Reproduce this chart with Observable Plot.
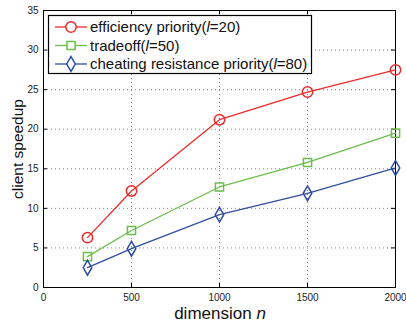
<!DOCTYPE html>
<html><head><meta charset="utf-8">
<script src="https://cdn.jsdelivr.net/npm/d3@7"></script>
<script src="https://cdn.jsdelivr.net/npm/@observablehq/plot@0.6"></script>
<style>
body{margin:0;background:#fff;}
#chart{position:relative;width:406px;height:325px;}
svg{font-family:"Liberation Sans",Arial,sans-serif;}
</style>
</head><body><div id="chart"></div>
<script>
const dims = [250, 500, 1000, 1500, 2000];
const efficiency = [6.3, 12.2, 21.2, 24.7, 27.5];
const tradeoff = [3.9, 7.2, 12.7, 15.8, 19.5];
const cheating = [2.5, 4.9, 9.2, 11.9, 15.1];
const seriesNames = ["efficiency priority(", "tradeoff(", "cheating resistance priority("];
const seriesL = ["20", "50", "80"];
const colors = ["#ee2a2a", "#6abf4b", "#2f4ea2"];
const xTicks = [0, 500, 1000, 1500, 2000];
const yTicks = [0, 5, 10, 15, 20, 25, 30, 35];

const series = [efficiency, tradeoff, cheating];
const symbols = ["circle", "square", "diamond"];
const radii = [5.2, 4.6, 4.5];
const rows = series.map((vals, i) => vals.map((v, j) => ({x: dims[j], y: v, s: i})));

const W = 406, H = 325, mL = 43, mR = 11, mT = 10, mB = 38;
const plotH = H - mT - mB, plotW = W - mL - mR;
const gridX = xTicks.slice(1, -1), gridY = yTicks.slice(1, -1);

const marks = [
  Plot.ruleX(gridX, {x: d => d, stroke: "#888", strokeDasharray: "1,3", strokeWidth: 1}),
  Plot.ruleY(gridY, {y: d => d, stroke: "#888", strokeDasharray: "1,3", strokeWidth: 1}),
  // inward ticks
  Plot.tickX(xTicks, {x: d => d, stroke: "#000", insetTop: plotH - 4}),
  Plot.tickX(xTicks, {x: d => d, stroke: "#000", insetBottom: plotH - 4}),
  Plot.tickY(yTicks, {y: d => d, stroke: "#000", insetRight: plotW - 4}),
  Plot.tickY(yTicks, {y: d => d, stroke: "#000", insetLeft: plotW - 4}),
  Plot.frame({stroke: "#000", strokeWidth: 1}),
  Plot.axisX(xTicks, {tickSize: 0, tickPadding: 6, fontSize: 10, fill: "#222", tickFormat: d3.format("d")}),
  Plot.axisY(yTicks, {tickSize: 0, tickPadding: 5, fontSize: 10, fill: "#222"}),
];
rows.forEach((r, i) => {
  marks.push(Plot.line(r, {x: "x", y: "y", stroke: colors[i], strokeWidth: 1.3}));
  marks.push(Plot.dot(r, {x: "x", y: "y", stroke: colors[i], symbol: symbols[i], r: radii[i], strokeWidth: 1.5, fill: "none"}));
});

const chart = Plot.plot({
  width: W, height: H,
  marginLeft: mL, marginRight: mR, marginTop: mT, marginBottom: mB,
  x: {domain: [0, 2000], label: null},
  y: {domain: [0, 35], label: null},
  marks
});
document.getElementById("chart").appendChild(chart);

const svg = d3.select(chart);
// axis labels
const xl = svg.append("text").attr("x", 220).attr("y", 319)
  .attr("text-anchor", "middle").attr("font-size", 17).attr("fill", "#111");
xl.append("tspan").text("dimension ");
xl.append("tspan").attr("font-style", "italic").text("n");
svg.append("text").attr("transform", `translate(23,149) rotate(-90)`)
  .attr("text-anchor", "middle").attr("font-size", 15.5).attr("fill", "#111").text("client speedup");

// legend
const lg = svg.append("g");
lg.append("rect").attr("x", 48.5).attr("y", 15.5).attr("width", 263).attr("height", 58)
  .attr("fill", "#fff").attr("stroke", "#000").attr("stroke-width", 1.2);
const dSym = {circle: d3.symbolCircle, square: d3.symbolSquare, diamond: d3.symbolDiamond};
seriesNames.forEach((name, i) => {
  const cy = 27 + i * 18.5;
  lg.append("line").attr("x1", 55).attr("x2", 87).attr("y1", cy).attr("y2", cy)
    .attr("stroke", colors[i]).attr("stroke-width", 1.3);
  lg.append("path").attr("d", d3.symbol(dSym[symbols[i]], Math.PI * radii[i] * radii[i])())
    .attr("transform", `translate(71,${cy})`).attr("fill", "#fff").attr("stroke", colors[i]).attr("stroke-width", 1.5);
  const t = lg.append("text").attr("x", 90).attr("y", cy + 5).attr("font-size", 15)
    .attr("text-anchor", "start").attr("fill", "#111");
  t.append("tspan").text(name);
  t.append("tspan").attr("font-style", "italic").text("l");
  t.append("tspan").text("=" + seriesL[i] + ")");
});
</script></body></html>
